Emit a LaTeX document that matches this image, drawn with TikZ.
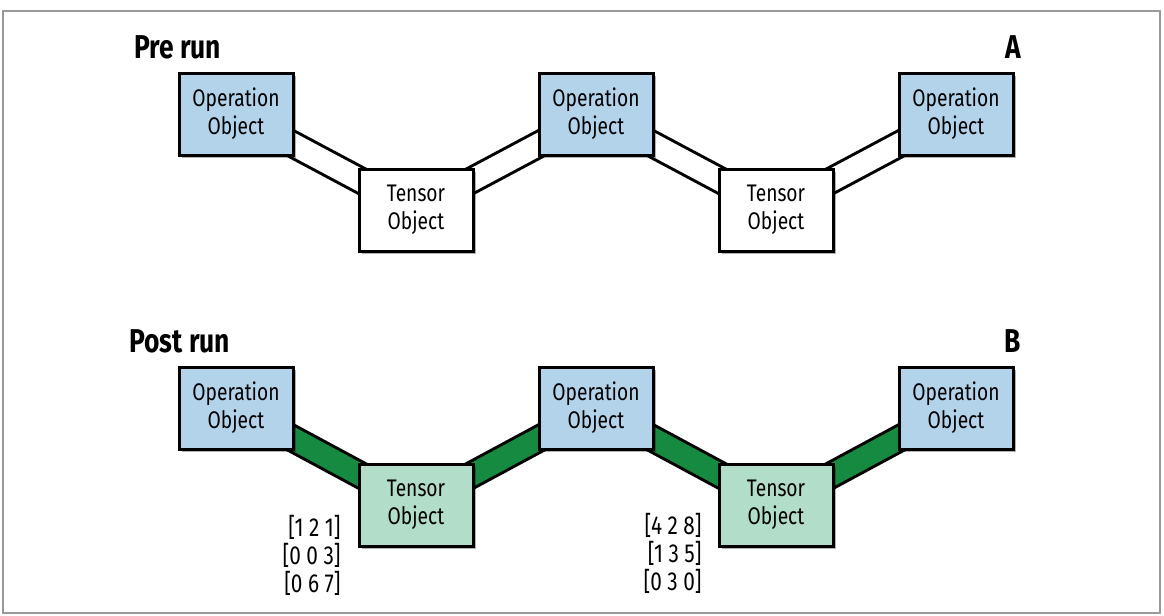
\documentclass[tikz,border=0pt]{standalone}
\usepackage{fontspec}
\setmainfont{Fira Sans}[FakeStretch=0.8]
\usetikzlibrary{positioning,backgrounds,shadows}
\definecolor{opblue}{RGB}{179,211,234}
\definecolor{tsgreen}{RGB}{178,221,200}
\definecolor{bandgreen}{RGB}{22,138,64}
\definecolor{framegray}{gray}{0.6}
\tikzset{
  obj/.style={draw, line width=1.5pt, minimum width=57pt, minimum height=41pt, inner sep=2pt,
              align=center, font=\fontsize{12}{14}\selectfont,
              drop shadow={shadow xshift=1.5pt, shadow yshift=-1.5pt, opacity=0.3, fill=black}},
  op/.style={obj, fill=opblue},
  ts/.style={obj, fill=white},
  tsd/.style={obj, fill=tsgreen},
  ttl/.style={font=\fontsize{16.5}{18}\selectfont\bfseries, inner sep=0pt},
  vals/.style={align=right, inner sep=0pt, font=\fontsize{13}{14}\selectfont},
  link/.style={line width=1.5pt, double=white, double distance=11pt},
  linkd/.style={link, double=bandgreen},
}
\begin{document}
\begin{tikzpicture}[x=0.5pt, y=-0.5pt]
  \useasboundingbox (0,0) rectangle (1164,616);
  \draw[framegray, line width=0.8pt] (3,11) rectangle (1160,613);
  % pre run
  \node[ttl, anchor=west] (pre) at (134,47) {Pre run};
  \node[ttl] (labA) at (1013,47) {A};
  \node[op] (opA1) at (236,114) {Operation\\Object};
  \node[op] (opA2) at (596,114) {Operation\\Object};
  \node[op] (opA3) at (956,114) {Operation\\Object};
  \node[ts] (tsA1) at (416,210) {Tensor\\Object};
  \node[ts] (tsA2) at (776,210) {Tensor\\Object};
  % post run
  \node[ttl, anchor=west] (post) at (129,341) {Post run};
  \node[ttl] (labB) at (1013,341) {B};
  \node[op] (opB1) at (236,408) {Operation\\Object};
  \node[op] (opB2) at (596,408) {Operation\\Object};
  \node[op] (opB3) at (956,408) {Operation\\Object};
  \node[tsd] (tsB1) at (416,505) {Tensor\\Object};
  \node[tsd] (tsB2) at (776,505) {Tensor\\Object};
  \node[vals, anchor=east] (val1) at (341,555) {[1 2 1]\\{}[0 0 3]\\{}[0 6 7]};
  \node[vals, anchor=east] (val2) at (702,553) {[4 2 8]\\{}[1 3 5]\\{}[0 3 0]};
  \begin{scope}[on background layer]
    \draw[link] (opA1.center) -- (tsA1.center);
    \draw[link] (tsA1.center) -- (opA2.center);
    \draw[link] (opA2.center) -- (tsA2.center);
    \draw[link] (tsA2.center) -- (opA3.center);
    \draw[linkd] (opB1.center) -- (tsB1.center);
    \draw[linkd] (tsB1.center) -- (opB2.center);
    \draw[linkd] (opB2.center) -- (tsB2.center);
    \draw[linkd] (tsB2.center) -- (opB3.center);
  \end{scope}
\end{tikzpicture}
\end{document}
